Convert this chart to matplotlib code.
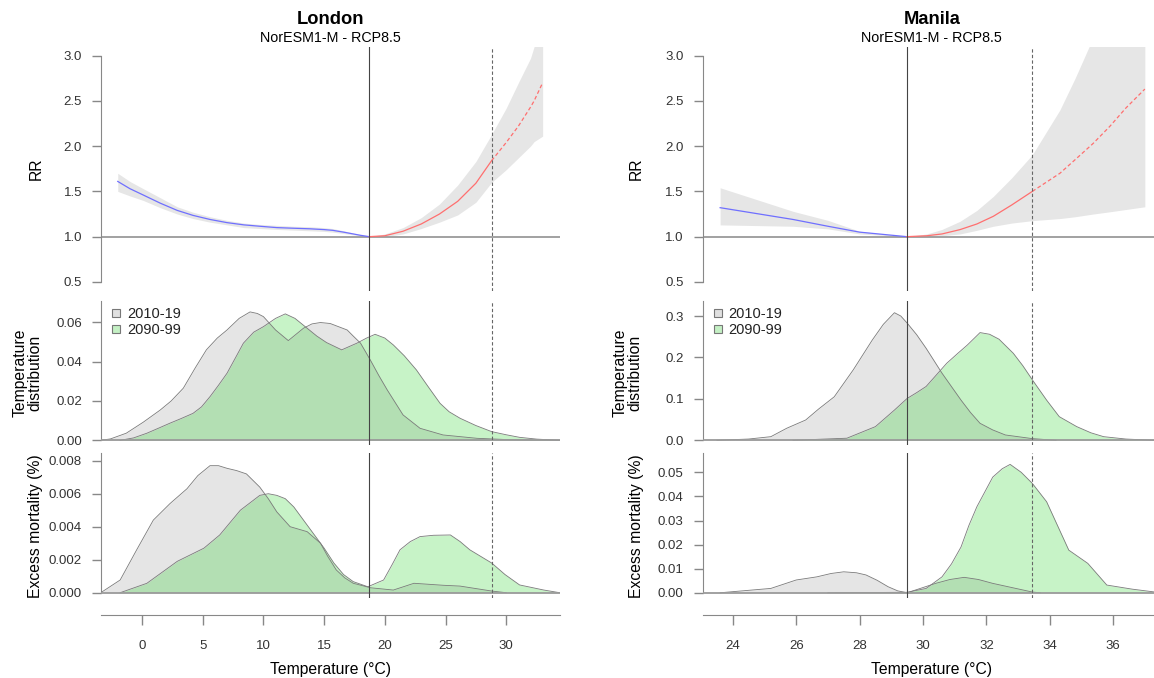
import numpy as np
import matplotlib
matplotlib.use("Agg")
import matplotlib.pyplot as plt
from matplotlib.lines import Line2D

plt.rcParams['font.family'] = ['Liberation Sans', 'DejaVu Sans']

# ---------------- London ----------------
lon_xlim = (-3.38, 34.43)
lon_mmt = 18.72
lon_p99 = 28.8

lon_cold_t = [-2.0, -1.0, 0.1, 1.5, 2.9, 4.2, 5.6, 7.0, 8.4, 9.7, 11.1, 12.5, 13.8, 15.0,
              15.7, 16.6, 17.4, 18.0, 18.72]
lon_cold_rr = [1.61, 1.53, 1.46, 1.37, 1.29, 1.235, 1.19, 1.155, 1.13, 1.115, 1.10, 1.093,
               1.087, 1.078, 1.07, 1.05, 1.03, 1.015, 1.0]
lon_cold_hi = [1.70, 1.61, 1.53, 1.43, 1.33, 1.27, 1.22, 1.18, 1.15, 1.135, 1.125, 1.115,
               1.11, 1.10, 1.09, 1.065, 1.04, 1.02, 1.0]
lon_cold_lo = [1.50, 1.45, 1.40, 1.32, 1.25, 1.20, 1.16, 1.13, 1.10, 1.09, 1.08, 1.072,
               1.065, 1.058, 1.05, 1.035, 1.02, 1.01, 1.0]

lon_heat_t = [18.72, 20.0, 21.5, 23.0, 24.5, 26.0, 27.5, 28.8, 30.0, 31.0, 32.0, 32.3, 33.0]
lon_heat_rr = [1.0, 1.01, 1.06, 1.14, 1.25, 1.39, 1.59, 1.84, 2.04, 2.22, 2.43, 2.50, 2.70]
lon_heat_hi = [1.0, 1.03, 1.10, 1.21, 1.36, 1.57, 1.83, 2.13, 2.42, 2.70, 2.97, 3.10, 3.45]
lon_heat_lo = [1.0, 1.0, 1.03, 1.09, 1.16, 1.24, 1.38, 1.60, 1.74, 1.87, 2.00, 2.05, 2.11]

lon_dist_old_t = [-3.4, -2.6, -1.3, 0.1, 1.5, 2.4, 3.4, 4.4, 5.3, 6.2, 7.0, 8.0, 8.9, 9.5,
                  10.0, 11.0, 12.05, 13.3, 14.0, 14.7, 15.5, 16.9, 17.4, 18.0, 18.8, 19.5,
                  20.2, 21.5, 22.9, 24.8, 27.6, 30.3, 34.4]
lon_dist_old = [0, 0.0007, 0.0036, 0.0092, 0.0154, 0.020, 0.0265, 0.037, 0.046, 0.052,
                0.0561, 0.062, 0.0653, 0.0645, 0.0629, 0.0561, 0.0507, 0.057, 0.0592, 0.0599,
                0.0594, 0.0561, 0.053, 0.0494, 0.0409, 0.033, 0.0256, 0.0129, 0.0061, 0.0027,
                0.001, 0.0003, 0]
lon_dist_new_t = [-1.8, -0.7, 0.4, 1.3, 2.3, 3.2, 4.2, 4.9, 5.6, 6.3, 7.0, 7.7, 8.35, 9.2,
                  10.0, 11.0, 11.8, 12.6, 13.6, 14.4, 15.2, 16.45, 17.7, 18.5, 19.2, 20.0,
                  20.7, 21.6, 22.6, 23.6, 24.55, 25.3, 26.2, 27.5, 28.8, 30.0, 31.1, 32.5, 34.4]
lon_dist_new = [0, 0.0012, 0.0036, 0.006, 0.0087, 0.011, 0.0137, 0.017, 0.0222, 0.028,
                0.0341, 0.042, 0.0494, 0.055, 0.0578, 0.062, 0.0643, 0.062, 0.057, 0.053,
                0.0497, 0.046, 0.0494, 0.052, 0.0539, 0.052, 0.0485, 0.043, 0.0358, 0.027,
                0.0188, 0.0145, 0.0112, 0.0075, 0.0044, 0.0028, 0.0015, 0.0006, 0]

lon_mort_old_t = [-3.4, -1.8, -0.44, 0.93, 2.3, 3.7, 4.6, 5.6, 6.3, 7.0, 7.8, 8.6, 9.7, 10.4,
                  11.1, 12.2, 13.6, 14.7, 15.3, 16.0, 16.7, 17.4, 18.5, 18.8, 20.7, 22.4,
                  24.8, 26.2, 28.8, 30.0]
lon_mort_old = [0, 0.00077, 0.0026, 0.0044, 0.0054, 0.0063, 0.0071, 0.0077, 0.0077, 0.00754,
                0.0074, 0.0072, 0.0064, 0.0057, 0.0049, 0.0040, 0.0037, 0.0030, 0.0022,
                0.00138, 0.0009, 0.00057, 0.00036, 0.0003, 0.00016, 0.00057, 0.00045,
                0.0004, 0.0001, 0]
lon_mort_new_t = [-1.8, 0.4, 2.9, 5.1, 6.4, 8.1, 9.7, 10.4, 11.1, 11.8, 12.5, 13.3, 14.1,
                  15.0, 15.8, 16.6, 17.4, 18.6, 19.9, 20.6, 21.25, 22.1, 22.9, 24.0, 25.4,
                  26.2, 27.0, 28.8, 29.9, 31.1, 33.1, 34.4]
lon_mort_new = [0, 0.00057, 0.0019, 0.0027, 0.0035, 0.0050, 0.0059, 0.0060, 0.0059, 0.0057,
                0.0052, 0.0044, 0.0036, 0.0027, 0.0018, 0.0011, 0.00067, 0.00036, 0.00077,
                0.0017, 0.0026, 0.0031, 0.0034, 0.00348, 0.0035, 0.0031, 0.0026, 0.0018,
                0.0011, 0.00047, 0.00016, 0]

# ---------------- Manila ----------------
man_xlim = (23.05, 37.5)
man_mmt = 29.49
man_p99 = 33.45

man_cold_t = [23.6, 25.9, 27.0, 28.0, 29.49]
man_cold_rr = [1.32, 1.19, 1.115, 1.05, 1.0]
man_cold_hi = [1.54, 1.28, 1.18, 1.06, 1.0]
man_cold_lo = [1.13, 1.115, 1.086, 1.03, 1.0]

man_heat_t = [29.49, 30.12, 30.6, 31.17, 31.7, 32.22, 32.8, 33.45, 34.32, 34.8, 35.37, 35.9,
              36.4, 37.0]
man_heat_rr = [1.0, 1.01, 1.03, 1.078, 1.14, 1.225, 1.35, 1.50, 1.70, 1.85, 2.03, 2.22,
               2.42, 2.63]
man_heat_hi = [1.0, 1.03, 1.08, 1.17, 1.29, 1.445, 1.65, 1.905, 2.40, 2.75, 3.2, 3.5,
               3.7, 3.9]
man_heat_lo = [1.0, 1.0, 1.01, 1.03, 1.07, 1.115, 1.15, 1.177, 1.20, 1.22, 1.25, 1.275,
               1.30, 1.33]

man_dist_old_t = [23.5, 24.5, 25.2, 25.7, 26.3, 26.7, 27.2, 27.8, 28.4, 28.75, 29.1, 29.3,
                  29.5, 29.8, 30.1, 30.6, 31.2, 31.5, 31.8, 32.2, 32.6, 33.45, 34.2]
man_dist_old = [0, 0.003, 0.0087, 0.029, 0.049, 0.075, 0.105, 0.17, 0.242, 0.28, 0.308,
                0.30, 0.283, 0.255, 0.222, 0.162, 0.097, 0.067, 0.041, 0.025, 0.0128,
                0.004, 0]
man_dist_new_t = [25.9, 27.6, 28.5, 29.1, 29.5, 29.8, 30.1, 30.75, 31.1, 31.4, 31.8, 32.1,
                  32.4, 32.85, 33.15, 33.45, 33.9, 34.3, 34.85, 35.3, 35.7, 36.4, 37.3]
man_dist_new = [0, 0.005, 0.033, 0.073, 0.101, 0.115, 0.13, 0.186, 0.21, 0.23, 0.26,
                0.256, 0.244, 0.21, 0.18, 0.146, 0.097, 0.057, 0.033, 0.018, 0.0087,
                0.003, 0]

man_mort_old_t = [23.6, 25.2, 26.0, 26.65, 27.1, 27.5, 27.9, 28.2, 28.55, 28.9, 29.2, 29.5,
                  30.4, 30.85, 31.3, 31.75, 32.2, 33.45, 33.7]
man_mort_old = [0, 0.0018, 0.0053, 0.0066, 0.0080, 0.0087, 0.0083, 0.0074, 0.0052, 0.0025,
                0.0008, 0.0, 0.0039, 0.0055, 0.0064, 0.0055, 0.0039, 0.0003, 0]
man_mort_new_t = [27.0, 29.5, 30.1, 30.6, 30.9, 31.2, 31.45, 31.7, 32.2, 32.5, 32.75, 33.1,
                  33.45, 33.9, 34.6, 35.2, 35.8, 36.6, 37.5]
man_mort_new = [0, 0.0002, 0.0018, 0.0066, 0.012, 0.019, 0.028, 0.0357, 0.048, 0.0515,
                0.0533, 0.050, 0.0454, 0.0378, 0.0177, 0.0122, 0.0032, 0.0015, 0]

periods = ['2010-19', '2090-99']

GREY_FILL = (0.5, 0.5, 0.5, 0.2)
GREEN_FILL = (0.05, 0.80, 0.05, 0.23)
EDGE = '#7a7a7a'
AXC = '#888888'
TXT = '#333333'

W, H = 1154, 678
fig = plt.figure(figsize=(W / 100, H / 100), dpi=100)


def px_rect(x0, x1, y0, y1):
    return [x0 / W, 1 - y1 / H, (x1 - x0) / W, (y1 - y0) / H]


def style(ax, xlim, ylim, yticks, fmt, bounds):
    ax.set_xlim(*xlim)
    ax.set_ylim(*ylim)
    for s in ['top', 'right', 'bottom']:
        ax.spines[s].set_visible(False)
    ax.spines['left'].set_color(AXC)
    ax.spines['left'].set_bounds(*bounds)
    ax.set_yticks(yticks)
    ax.set_yticklabels([fmt.format(v) for v in yticks])
    ax.tick_params(axis='y', length=6.7, width=1, color=AXC, labelcolor=TXT,
                   labelsize=9.5, pad=7)
    ax.set_xticks([])


def vlines(ax, mmt, p99):
    ax.axvline(mmt, color='#444444', lw=0.8, zorder=5)
    ax.axvline(p99, color='#666666', lw=0.8, ls=(0, (3, 2)), zorder=5)


def densities(ax, old, new):
    (ot, ov), (nt, nv) = old, new
    ax.fill_between(ot, 0, ov, color=GREY_FILL, lw=0, zorder=1)
    ax.plot(ot, ov, color=EDGE, lw=0.6, zorder=3)
    ax.fill_between(nt, 0, nv, color=GREEN_FILL, lw=0, zorder=2)
    ax.plot(nt, nv, color=EDGE, lw=0.6, zorder=3)
    ax.axhline(0, color='#9a9a9a', lw=1.3, zorder=4)


def draw_city(x0, x1, xlim, mmt, p99, cold, heat, dist, mort, dist_ticks, dist_fmt,
              mort_ticks, mort_fmt, dist_ylim, mort_ylim, xticks, city, label_x):
    cx = (x0 + x1) / 2

    # RR panel
    ax = fig.add_axes(px_rect(x0, x1, 46.5, 291))
    style(ax, xlim, (0.4, 3.1), [0.5, 1.0, 1.5, 2.0, 2.5, 3.0], '{:.1f}', (0.5, 3.0))
    ct, crr, chi, clo = cold
    ht, hrr, hhi, hlo = heat
    ax.fill_between(ct, clo, chi, color='#e6e6e6', lw=0, zorder=1)
    ax.fill_between(ht, hlo, hhi, color='#e6e6e6', lw=0, zorder=1)
    ax.axhline(1.0, color='#9a9a9a', lw=1.3, zorder=2)
    ax.plot(ct, crr, color='#6f6fff', lw=0.9, zorder=3)
    ht = np.array(ht)
    hrr = np.array(hrr)
    m1 = ht <= p99 + 1e-9
    m2 = ht >= p99 - 1e-9
    ax.plot(ht[m1], hrr[m1], color='#ff6f6f', lw=0.9, zorder=3)
    ax.plot(ht[m2], hrr[m2], color='#ff6f6f', lw=0.9, ls=(0, (3, 2)), zorder=3)
    vlines(ax, mmt, p99)
    fig.text(cx / W, 1 - 19 / H, city, ha='center', va='center', fontsize=13.2,
             fontweight='bold', color='black')
    fig.text(cx / W, 1 - 38 / H, 'NorESM1-M - RCP8.5', ha='center', va='center',
             fontsize=10.3, color='black')
    fig.text(label_x / W, 1 - 168.7 / H, 'RR', rotation=90, ha='center', va='center',
             fontsize=11.3, color='black')

    # temperature distribution
    ax2 = fig.add_axes(px_rect(x0, x1, 300.7, 445))
    style(ax2, xlim, dist_ylim, dist_ticks, dist_fmt, (0, dist_ylim[1]))
    densities(ax2, dist[0], dist[1])
    vlines(ax2, mmt, p99)
    handles = [Line2D([], [], ls='none', marker='s', markersize=6.2,
                      markerfacecolor='#e0e0e0', markeredgecolor='#777777', markeredgewidth=0.8),
               Line2D([], [], ls='none', marker='s', markersize=6.2,
                      markerfacecolor='#c4f0c4', markeredgecolor='#777777', markeredgewidth=0.8)]
    leg = ax2.legend(handles, periods, loc='upper left',
                     bbox_to_anchor=(10.5 / (x1 - x0), 0.955), frameon=False,
                     fontsize=10.5, handlelength=0.6, handletextpad=0.45,
                     labelspacing=0.12, borderaxespad=0, borderpad=0)
    for t in leg.get_texts():
        t.set_color('#222222')
    fig.text((label_x - 8.5) / W, 1 - 372.9 / H, 'Temperature\ndistribution', rotation=90,
             ha='center', va='center', fontsize=11.3, color='black', linespacing=1.0)

    # excess mortality
    ax3 = fig.add_axes(px_rect(x0, x1, 453.3, 598.3))
    style(ax3, xlim, mort_ylim, mort_ticks, mort_fmt, (0, mort_ylim[1]))
    densities(ax3, mort[0], mort[1])
    vlines(ax3, mmt, p99)
    fig.text(label_x / W, 1 - 525.8 / H, 'Excess mortality (%)', rotation=90,
             ha='center', va='center', fontsize=11.3, color='black')

    ax3.spines['bottom'].set_visible(True)
    ax3.spines['bottom'].set_color(AXC)
    ax3.spines['bottom'].set_position(('outward', 12))
    ax3.set_xticks(xticks)
    ax3.set_xticklabels([str(v) for v in xticks])
    ax3.tick_params(axis='x', length=7.2, width=1, color=AXC, labelcolor=TXT,
                    labelsize=9.5, pad=11)
    fig.text(cx / W, 1 - 669.3 / H, 'Temperature (\u00b0C)', ha='center', va='center',
             fontsize=11.3, color='black')


draw_city(101, 560, lon_xlim, lon_mmt, lon_p99,
          (lon_cold_t, lon_cold_rr, lon_cold_hi, lon_cold_lo),
          (lon_heat_t, lon_heat_rr, lon_heat_hi, lon_heat_lo),
          ((lon_dist_old_t, lon_dist_old), (lon_dist_new_t, lon_dist_new)),
          ((lon_mort_old_t, lon_mort_old), (lon_mort_new_t, lon_mort_new)),
          [0.00, 0.02, 0.04, 0.06], '{:.2f}',
          [0.000, 0.002, 0.004, 0.006, 0.008], '{:.3f}',
          (-0.0024, 0.071), (-0.00034, 0.00845),
          [0, 5, 10, 15, 20, 25, 30], 'London', 36)

draw_city(702.7, 1160.7, man_xlim, man_mmt, man_p99,
          (man_cold_t, man_cold_rr, man_cold_hi, man_cold_lo),
          (man_heat_t, man_heat_rr, man_heat_hi, man_heat_lo),
          ((man_dist_old_t, man_dist_old), (man_dist_new_t, man_dist_new)),
          ((man_mort_old_t, man_mort_old), (man_mort_new_t, man_mort_new)),
          [0.0, 0.1, 0.2, 0.3], '{:.1f}',
          [0.00, 0.01, 0.02, 0.03, 0.04, 0.05], '{:.2f}',
          (-0.0114, 0.337), (-0.0023, 0.0579),
          [24, 26, 28, 30, 32, 34, 36], 'Manila', 636)

fig.savefig('out.png', dpi=100)
